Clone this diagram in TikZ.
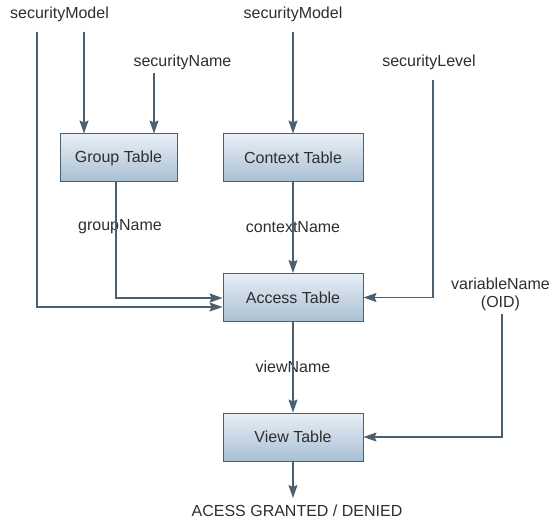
\documentclass[tikz,border=0pt]{standalone}
\usepackage{fontspec}
\setmainfont{Liberation Sans}
\usetikzlibrary{arrows.meta}
\definecolor{linec}{HTML}{4A5F70}
\definecolor{boxtop}{HTML}{E8EFF6}
\definecolor{boxbot}{HTML}{A9BFD3}
\definecolor{txt}{HTML}{2E2E2E}
\begin{document}
\begin{tikzpicture}[x=1pt,y=-1pt,
  every node/.style={font=\fontsize{16pt}{18pt}\selectfont, text=txt},
  tbl/.style={draw=linec, line width=1pt, top color=boxtop, bottom color=boxbot,
    minimum height=48pt, inner sep=0pt},
  lbl/.style={inner sep=0pt},
  conn/.style={draw=linec, line width=1.2pt, -{Stealth[length=13pt,width=9pt,inset=2pt]}},
  plain/.style={draw=linec, line width=1.2pt}]
\useasboundingbox (0,0) rectangle (553,521);
% tables
\node[tbl, minimum width=117pt] (group) at (118.5,158) {Group Table};
\node[tbl, minimum width=140pt] (context) at (293,158) {Context Table};
\node[tbl, minimum width=140pt] (access) at (293,297.5) {Access Table};
\node[tbl, minimum width=140pt] (view) at (293,437) {View Table};
% labels
\node[lbl] (sm1) at (59.5,14) {securityModel};
\node[lbl] (sn) at (182.5,62) {securityName};
\node[lbl] (sm2) at (293,14) {securityModel};
\node[lbl] (sl) at (429,62) {securityLevel};
\node[lbl, align=center] (vn) at (500.5,294) {variableName\\(OID)};
\node[lbl] (gn) at (120,227) {groupName};
\node[lbl] (cn) at (293,227) {contextName};
\node[lbl] (vwn) at (293,367) {viewName};
\node[lbl] (res) at (297,511) {ACESS GRANTED / DENIED};
% free ends
\coordinate (a1) at (37,32);
\coordinate (a2) at (84,32);
\coordinate (a3) at (154,73);
\coordinate (a4) at (293,32);
\coordinate (a5) at (433,80);
\coordinate (a6) at (502,314);
\coordinate (a7) at (293,498);
\coordinate (g0) at (116,182);
% connectors
\draw[conn] (a2) -- (a2 |- group.north);
\draw[conn] (a3) -- (a3 |- group.north);
\draw[conn] (a4) -- (context.north);
\draw[conn] (a1) |- ([yshift=-9.5pt]access.west);
\draw[conn] (g0) |- ([yshift=-0.5pt]access.west);
\draw[conn] (context.south) -- (access.north);
\draw[conn] (a5) |- (access.east);
\draw[conn] (access.south) -- (view.north);
\draw[conn] (a6) |- (view.east);
\draw[conn] (view.south) -- (a7);
\end{tikzpicture}
\end{document}
